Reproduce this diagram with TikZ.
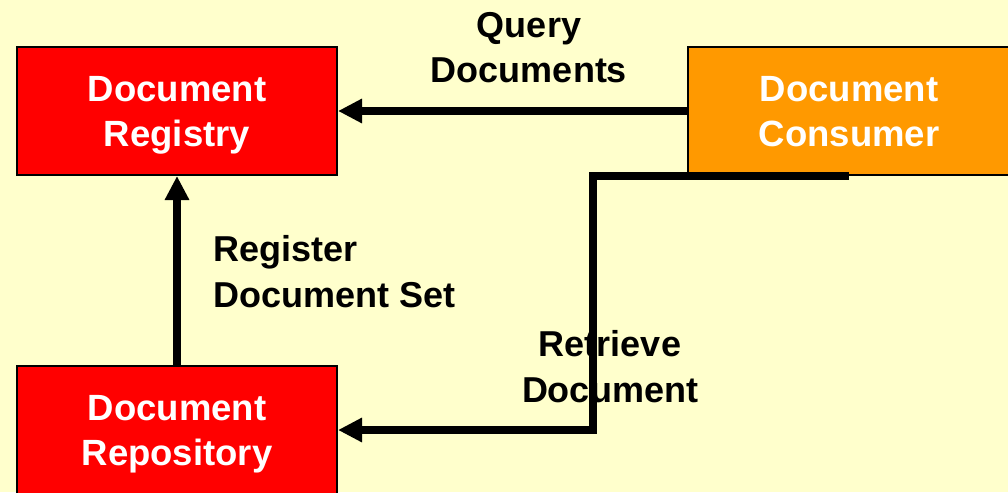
\documentclass[tikz,border=0pt]{standalone}
\usepackage{fontspec}
\setmainfont{Liberation Sans}
\usetikzlibrary{arrows.meta}
\definecolor{bgyellow}{HTML}{FFFFCC}
\definecolor{boxred}{HTML}{FF0000}
\definecolor{boxorange}{HTML}{FF9900}
\tikzset{
  actor/.style={draw=black, line width=2pt, minimum width=320pt, minimum height=128pt,
    inner sep=0pt, text=white, align=center, text depth=0pt,
    font=\fontsize{36.5}{45}\selectfont\bfseries},
  flowlabel/.style={inner sep=0pt, text=black,
    font=\fontsize{36}{45.5}\selectfont\bfseries},
  flow/.style={line width=7.5pt, -{Triangle[length=24pt,width=23pt]}}
}
\begin{document}
\begin{tikzpicture}[x=1pt,y=1pt]
\useasboundingbox (0,0) rectangle (1008,-492);
\fill[bgyellow] (0,0) rectangle (1008,-492);
\node[actor, fill=boxred] (registry) at (177,-111) {Document\\Registry};
\node[actor, fill=boxorange, minimum width=322pt] (consumer) at (849,-111) {Document\\Consumer};
\node[actor, fill=boxred] (repository) at (177,-430) {Document\\Repository};
\coordinate (turn) at (593,-430);
\draw[flow] (consumer.west) -- (registry.east);
\draw[flow] (repository.north) -- (registry.south);
\draw[flow] (consumer.south) -| (turn) -- (repository.east);
\node[flowlabel, align=center, anchor=base] (qlabel) at (529,-83) {Query\\Documents};
\node[flowlabel, align=left, anchor=base west] (rlabel) at (213,-307) {Register\\Document Set};
\node[flowlabel, align=center, anchor=base] (tlabel) at (610,-402) {Retrieve\\Document};
\end{tikzpicture}
\end{document}
